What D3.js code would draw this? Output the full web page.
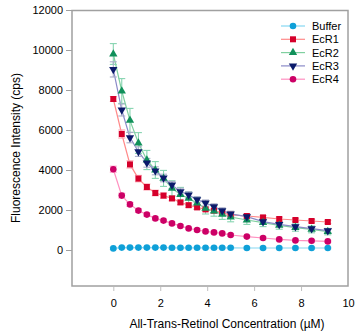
<!DOCTYPE html>
<html><head><meta charset="utf-8">
<script src="https://cdn.jsdelivr.net/npm/d3@7"></script>
<style>body{margin:0;background:#fff}svg{display:block}text{font-family:"Liberation Sans",Arial,sans-serif}</style>
</head><body><svg id="c" width="362" height="335"></svg>
<script>
const conc = [0,0.36,0.71,1.07,1.43,1.79,2.14,2.5,2.86,3.21,3.57,3.93,4.29,4.64,5.0,5.69,6.38,7.07,7.76,8.45,9.14];
const seriesNames = ["Buffer","EcR1","EcR2","EcR3","EcR4"];
const buffer = [80,120,120,120,120,120,120,110,110,110,110,110,110,110,110,100,100,100,100,100,100];
const ecr1 = [7550,5800,4280,3570,3150,2850,2720,2580,2380,2240,2130,2030,1970,1860,1760,1700,1630,1550,1500,1450,1400];
const ecr2 = [9800,7950,6480,5350,4500,4000,3580,3080,2770,2580,2340,2080,1950,1780,1650,1500,1370,1230,1120,1030,920];
const ecr3 = [9030,7000,5620,4920,4360,3960,3600,3250,2920,2750,2520,2350,2170,1970,1810,1670,1420,1280,1170,1070,970];
const ecr4 = [4040,2720,2280,1970,1770,1580,1470,1330,1200,1080,1000,930,880,830,750,670,600,530,480,460,430];
const err1 = [120,200,180,160,150,140,130,120,110,110,100,100,100,100,100,90,90,90,80,80,80];
const err2 = [520,620,600,520,480,420,400,380,360,330,300,280,260,250,240,220,200,190,180,170,160];
const err3 = [380,300,260,240,220,200,190,180,170,160,150,150,140,140,130,120,120,110,110,100,100];
const err4 = [150,120,100,90,80,80,70,70,60,60,60,60,60,60,60,50,50,50,50,50,50];
const errBuf = [40,40,40,40,40,40,40,40,40,40,40,40,40,40,40,40,40,40,40,40,40];
const xTicks = [0,2,4,6,8,10];
const yTicks = [0,2000,4000,6000,8000,10000,12000];

const svg = d3.select("#c");
const x = d3.scaleLinear().domain([-1.76,10]).range([72,348]);
const y = d3.scaleLinear().domain([-1800,12000]).range([286,10]);

const styles = [
  {name:"Buffer", vals:buffer, err:errBuf, marker:d3.symbolCircle, size:34, mc:"#0fa0d8", lc:"#86d8f2", ec:"#86d8f2"},
  {name:"EcR1", vals:ecr1, err:err1, marker:d3.symbolSquare, size:36, mc:"#d5002b", lc:"#ff8a8a", ec:"#ffa0b0"},
  {name:"EcR2", vals:ecr2, err:err2, marker:d3.symbolTriangle, size:30, mc:"#10905a", lc:"#80d0a0", ec:"#86d4b0"},
  {name:"EcR3", vals:ecr3, err:err3, marker:"down", size:30, mc:"#0b1a6b", lc:"#8a8ac8", ec:"#a8aec8"},
  {name:"EcR4", vals:ecr4, err:err4, marker:d3.symbolCircle, size:34, mc:"#cc0066", lc:"#ff90c0", ec:"#ffa0c8"}
];

// frame
svg.append("rect").attr("x",72).attr("y",10.5).attr("width",276).attr("height",275.5)
  .attr("fill","none").attr("stroke","#a0a0a0").attr("stroke-width",1.5);

// y axis
const yAx = svg.append("g").attr("transform","translate(72,0)")
  .call(d3.axisLeft(y).tickValues(yTicks).tickSize(6).tickPadding(3).tickFormat(d3.format("d")));
yAx.select(".domain").remove();
yAx.selectAll("line").attr("stroke","#a0a0a0").attr("stroke-width",1);
yAx.selectAll("text").attr("font-size",11).attr("fill","#000").attr("font-family","Liberation Sans, Arial, sans-serif");

// x axis
const xAx = svg.append("g").attr("transform","translate(0,287)")
  .call(d3.axisBottom(x).tickValues(xTicks).tickSize(4).tickPadding(8).tickFormat(d3.format("d")));
xAx.select(".domain").remove();
xAx.selectAll("line").attr("stroke","#c0c0c0").attr("stroke-width",1);
xAx.selectAll(".tick").filter(d=>d===10).select("line").remove();
xAx.selectAll("text").attr("font-size",11).attr("fill","#000").attr("font-family","Liberation Sans, Arial, sans-serif");

// axis titles
svg.append("text").attr("transform","translate(20,148) rotate(-90)").attr("text-anchor","middle")
  .attr("font-size",12).text("Fluorescence Intensity (cps)");
svg.append("text").attr("x",227).attr("y",328).attr("text-anchor","middle")
  .attr("font-size",12).text("All-Trans-Retinol Concentration (\u00b5M)");

function sym(s){
  if(s.marker==="down") return d3.symbol().type(d3.symbolTriangle).size(s.size)();
  return d3.symbol().type(s.marker).size(s.size)();
}

const line = d3.line().x((d,i)=>x(conc[i])).y(d=>y(d));

// lines
styles.forEach(s=>{
  svg.append("path").attr("d",line(s.vals)).attr("fill","none").attr("stroke",s.lc).attr("stroke-width",1.2);
});
// error bars
styles.forEach(s=>{
  const g = svg.append("g").attr("stroke",s.ec).attr("stroke-width",1.1);
  s.vals.forEach((v,i)=>{
    const cx=x(conc[i]), t=y(v+s.err[i]), b=y(v-s.err[i]);
    g.append("line").attr("x1",cx).attr("x2",cx).attr("y1",t).attr("y2",b);
    g.append("line").attr("x1",cx-3.5).attr("x2",cx+3.5).attr("y1",t).attr("y2",t);
    g.append("line").attr("x1",cx-3.5).attr("x2",cx+3.5).attr("y1",b).attr("y2",b);
  });
});
// markers
styles.forEach(s=>{
  const d = sym(s);
  svg.append("g").selectAll("path").data(s.vals).join("path")
    .attr("d",d)
    .attr("transform",(v,i)=>`translate(${x(conc[i])},${y(v)})`+(s.marker==="down"?" rotate(180)":""))
    .attr("fill",s.mc);
});

// legend
const lg = svg.append("g");
styles.forEach((s,i)=>{
  const yy = 26 + i*13.3;
  lg.append("line").attr("x1",281).attr("x2",305).attr("y1",yy).attr("y2",yy).attr("stroke",s.lc).attr("stroke-width",1.2);
  lg.append("path").attr("d",sym(s)).attr("transform",`translate(293,${yy})`+(s.marker==="down"?" rotate(180)":"")).attr("fill",s.mc);
  lg.append("text").attr("x",312).attr("y",yy+4).attr("font-size",11).text(s.name);
});
</script></body></html>
